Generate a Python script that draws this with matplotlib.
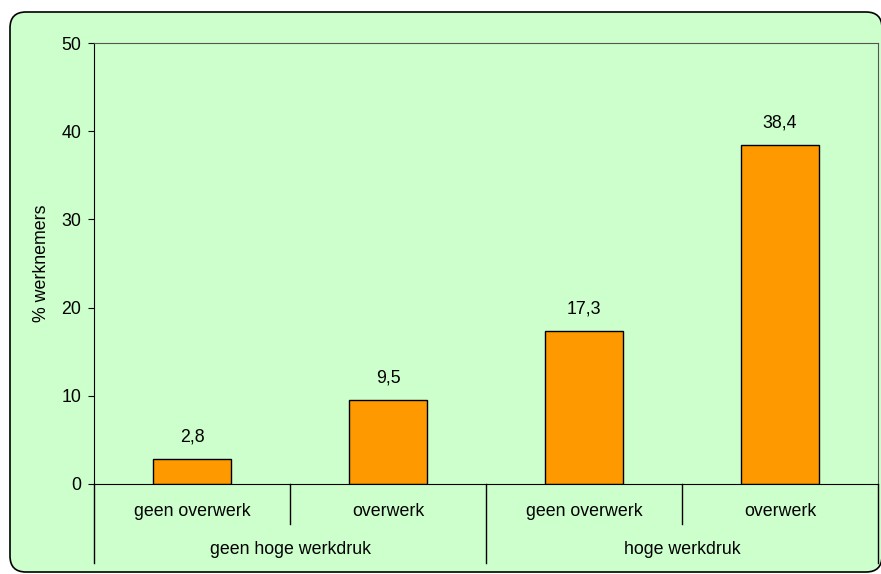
import matplotlib
matplotlib.use("Agg")
import matplotlib.pyplot as plt
from matplotlib.patches import FancyBboxPatch
import matplotlib.transforms as mtransforms

plt.rcParams['font.family'] = ['Liberation Sans', 'DejaVu Sans']

# gegevens
sub_labels = ['geen overwerk', 'overwerk', 'geen overwerk', 'overwerk']
group_labels = ['geen hoge werkdruk', 'hoge werkdruk']
values = [2.8, 9.5, 17.3, 38.4]
value_labels = ['2,8', '9,5', '17,3', '38,4']

FS = 12.8
W, H = 881, 574
fig = plt.figure(figsize=(W / 100, H / 100), dpi=100)
fig.patch.set_facecolor('white')

# afgeronde achtergrond (pixelcoordinaten)
frame = FancyBboxPatch((10, 2), 872, 560,
                       boxstyle='round,pad=0,rounding_size=16',
                       transform=mtransforms.IdentityTransform(),
                       facecolor='#CCFFCC', edgecolor='black', linewidth=1.2,
                       zorder=-10)
fig.patches.append(frame)

ax = fig.add_axes([94 / W, (H - 484) / H, 784 / W, 441 / H])
ax.set_facecolor('#CCFFCC')

x = list(range(len(values)))
ax.bar(x, values, width=0.4, color='#FF9900', edgecolor='black', linewidth=1)
for xi, v, lab in zip(x, values, value_labels):
    ax.annotate(lab, (xi, v), xytext=(0, 16), textcoords='offset points',
                ha='center', va='center', fontsize=FS)

ax.set_xlim(-0.5, 3.5)
ax.set_ylim(0, 50)
ax.set_yticks(range(0, 51, 10))
ax.tick_params(axis='y', direction='out', length=4.3, labelsize=FS, pad=5)
ax.set_xticks([])
ax.set_ylabel('% werknemers', fontsize=FS, labelpad=8)

for side in ['top', 'right']:
    ax.spines[side].set_color('#555555')
for side in ['left', 'bottom']:
    ax.spines[side].set_color('black')

# categorie-assen
trans = mtransforms.blended_transform_factory(ax.transData, ax.transAxes)
short = -40 / 441
long_ = -79 / 441
for xs in [0.5, 2.5]:
    ax.plot([xs, xs], [0, short], color='black', lw=1, transform=trans, clip_on=False)
for xs in [-0.5, 1.5, 3.5]:
    ax.plot([xs, xs], [0, long_], color='black', lw=1, transform=trans, clip_on=False)
for xi, lab in zip(x, sub_labels):
    ax.text(xi, -27 / 441, lab, ha='center', va='center', fontsize=FS, transform=trans)
for gx, lab in zip([0.5, 2.5], group_labels):
    ax.text(gx, -66 / 441, lab, ha='center', va='center', fontsize=FS, transform=trans)

fig.savefig('out.png', dpi=100)
